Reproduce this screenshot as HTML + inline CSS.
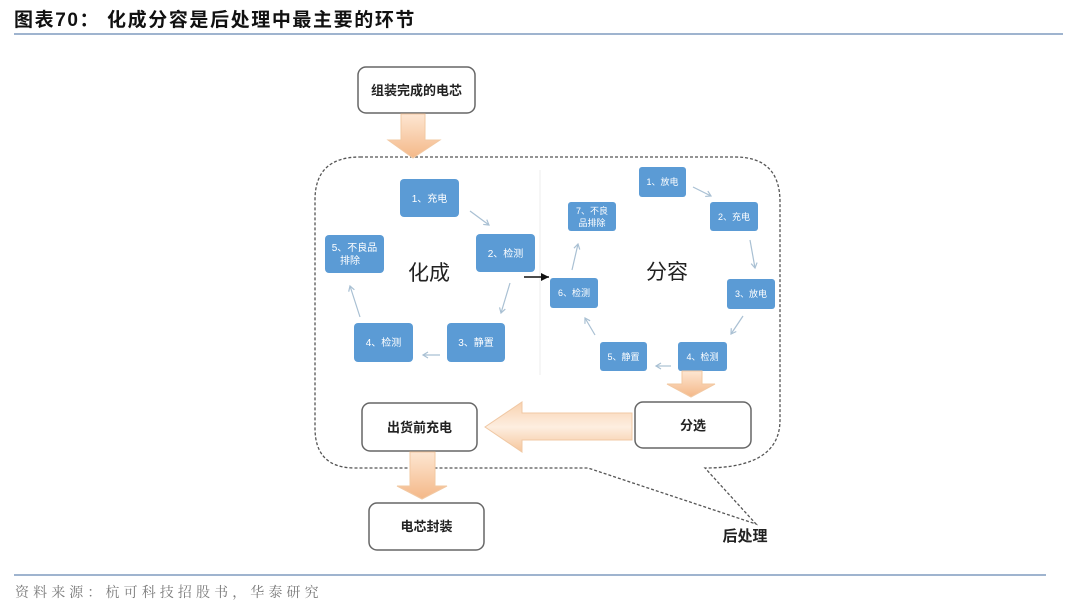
<!DOCTYPE html>
<html><head><meta charset="utf-8">
<style>
html,body{margin:0;padding:0;background:#fff;}
body{width:1080px;height:608px;overflow:hidden;position:relative;}
.t{position:absolute;font-family:"Liberation Sans","Noto Sans CJK SC",sans-serif;}
</style></head>
<body>
<div class="t" style="left:14px;top:5px;font-size:19px;font-weight:bold;color:#111;letter-spacing:1.6px;white-space:nowrap;">图表70：&nbsp;化成分容是后处理中最主要的环节</div>
<div style="position:absolute;left:14px;top:33px;width:1049px;height:2px;background:#9fb4cf;"></div>
<div style="position:absolute;left:14px;top:574px;width:1032px;height:2px;background:#9fb4cf;"></div>
<div class="t" style="left:15px;top:582px;font-size:14px;color:#7a7a7a;letter-spacing:4.1px;white-space:nowrap;font-family:'Liberation Serif','Noto Serif CJK SC',serif;">资料来源：杭可科技招股书，华泰研究</div>

<svg width="1080" height="608" style="position:absolute;left:0;top:0;" xmlns="http://www.w3.org/2000/svg">
<defs>
<linearGradient id="og" x1="0" y1="0" x2="0" y2="1">
<stop offset="0" stop-color="#fde6d2"/>
<stop offset="1" stop-color="#f4b888"/>
</linearGradient>
<linearGradient id="oh" x1="0" y1="0" x2="0" y2="1">
<stop offset="0" stop-color="#f9d2b0"/>
<stop offset="0.5" stop-color="#fdeee0"/>
<stop offset="1" stop-color="#f6c69c"/>
</linearGradient>
<marker id="ah" markerWidth="8" markerHeight="8" refX="6" refY="4" orient="auto" markerUnits="userSpaceOnUse">
<path d="M1,1 L6,4 L1,7" fill="none" stroke="#a9c0d3" stroke-width="1.2"/>
</marker>
<marker id="bh" markerWidth="10" markerHeight="10" refX="8" refY="5" orient="auto" markerUnits="userSpaceOnUse">
<path d="M0,1 L8,5 L0,9 Z" fill="#111"/>
</marker>
</defs>

<path d="M360,157 L735,157 Q780,157 780,202 L780,420 Q780,468 705,468 L756,524 L588,468 L355,468 Q315,468 315,428 L315,200 Q315,157 360,157 Z" fill="none" stroke="#555" stroke-width="1.3" stroke-dasharray="3,2"/>

<line x1="540" y1="170" x2="540" y2="375" stroke="#eee" stroke-width="1"/>

<rect x="358" y="67" width="117" height="46" rx="8" fill="#fff" stroke="#666" stroke-width="1.5"/>
<text x="416.5" y="95" font-size="13" font-weight="bold" text-anchor="middle" fill="#222" font-family="Liberation Sans, Noto Sans CJK SC, sans-serif">组装完成的电芯</text>
<path d="M401,114 L425,114 L425,140 L440,140 L413,158 L388,140 L401,140 Z" fill="url(#og)" stroke="#f2c8a2" stroke-width="1"/>

<g fill="#5b9bd5">
<rect x="400" y="179" width="59" height="38" rx="4"/>
<rect x="476" y="234" width="59" height="38" rx="4"/>
<rect x="325" y="235" width="59" height="38" rx="4"/>
<rect x="447" y="323" width="58" height="39" rx="4"/>
<rect x="354" y="323" width="59" height="39" rx="4"/>
</g>
<g fill="#fff" font-size="10" text-anchor="middle" font-family="Liberation Sans, Noto Sans CJK SC, sans-serif">
<text x="429.5" y="202">1、充电</text>
<text x="505.5" y="257">2、检测</text>
<text x="354.5" y="251">5、不良品</text>
<text x="350" y="264">排除</text>
<text x="476" y="346">3、静置</text>
<text x="383.5" y="346">4、检测</text>
</g>
<text x="429" y="280" font-size="21" text-anchor="middle" fill="#222" font-family="Liberation Sans, Noto Sans CJK SC, sans-serif">化成</text>
<g stroke="#a9c0d3" stroke-width="1.2" fill="none" marker-end="url(#ah)">
<line x1="470" y1="211" x2="489" y2="225"/>
<line x1="510" y1="283" x2="501" y2="313"/>
<line x1="440" y1="355" x2="423" y2="355"/>
<line x1="360" y1="317" x2="350" y2="286"/>
</g>
<line x1="524" y1="277" x2="549" y2="277" stroke="#111" stroke-width="1.6" marker-end="url(#bh)"/>

<g fill="#5b9bd5">
<rect x="639" y="167" width="47" height="30" rx="3"/>
<rect x="710" y="202" width="48" height="29" rx="3"/>
<rect x="568" y="202" width="48" height="29" rx="3"/>
<rect x="550" y="278" width="48" height="30" rx="3"/>
<rect x="727" y="279" width="48" height="30" rx="3"/>
<rect x="600" y="342" width="47" height="29" rx="3"/>
<rect x="678" y="342" width="49" height="29" rx="3"/>
</g>
<g fill="#fff" font-size="9" text-anchor="middle" font-family="Liberation Sans, Noto Sans CJK SC, sans-serif">
<text x="662.5" y="185">1、放电</text>
<text x="734" y="220">2、充电</text>
<text x="592" y="214">7、不良</text>
<text x="592" y="226">品排除</text>
<text x="574" y="296">6、检测</text>
<text x="751" y="297">3、放电</text>
<text x="623.5" y="360">5、静置</text>
<text x="702.5" y="360">4、检测</text>
</g>
<text x="667" y="279" font-size="21" text-anchor="middle" fill="#222" font-family="Liberation Sans, Noto Sans CJK SC, sans-serif">分容</text>
<g stroke="#a9c0d3" stroke-width="1.2" fill="none" marker-end="url(#ah)">
<line x1="693" y1="187" x2="711" y2="196"/>
<line x1="750" y1="240" x2="755" y2="268"/>
<line x1="743" y1="316" x2="731" y2="334"/>
<line x1="671" y1="366" x2="656" y2="366"/>
<line x1="595" y1="335" x2="585" y2="318"/>
<line x1="572" y1="270" x2="578" y2="244"/>
</g>

<path d="M682,371 L702,371 L702,384 L715,384 L691,397 L667,384 L682,384 Z" fill="url(#og)" stroke="#f2c8a2" stroke-width="1"/>
<rect x="635" y="402" width="116" height="46" rx="8" fill="#fff" stroke="#666" stroke-width="1.5"/>
<text x="693" y="430" font-size="13" font-weight="bold" text-anchor="middle" fill="#222" font-family="Liberation Sans, Noto Sans CJK SC, sans-serif">分选</text>

<path d="M632,413 L522,413 L522,402 L485,427 L522,452 L522,440 L632,440 Z" fill="url(#oh)" stroke="#f0c8a4" stroke-width="1"/>

<rect x="362" y="403" width="115" height="48" rx="8" fill="#fff" stroke="#666" stroke-width="1.5"/>
<text x="419.5" y="432" font-size="13" font-weight="bold" text-anchor="middle" fill="#222" font-family="Liberation Sans, Noto Sans CJK SC, sans-serif">出货前充电</text>

<path d="M410,452 L435,452 L435,486 L447,486 L422,499 L397,486 L410,486 Z" fill="url(#og)" stroke="#f2c8a2" stroke-width="1"/>

<rect x="369" y="503" width="115" height="47" rx="8" fill="#fff" stroke="#666" stroke-width="1.5"/>
<text x="426.5" y="531" font-size="13" font-weight="bold" text-anchor="middle" fill="#222" font-family="Liberation Sans, Noto Sans CJK SC, sans-serif">电芯封装</text>

<text x="745" y="541" font-size="15" font-weight="bold" text-anchor="middle" fill="#222" font-family="Liberation Sans, Noto Sans CJK SC, sans-serif">后处理</text>
</svg>
</body></html>
